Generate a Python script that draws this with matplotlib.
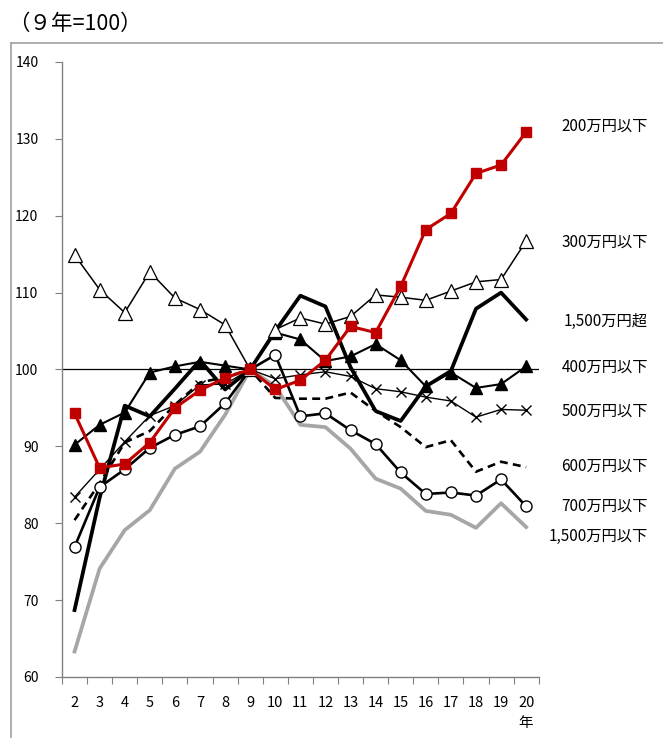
import numpy as np
import matplotlib
matplotlib.use("Agg")
import matplotlib.pyplot as plt
from matplotlib.lines import Line2D
from matplotlib.ticker import FixedLocator, NullFormatter

plt.rcParams['font.family'] = ['Noto Sans CJK JP', 'DejaVu Sans']

# %% data (9年 = 100)
years = list(range(2, 21))

inc_200 = [94.3, 87.2, 87.7, 90.5, 95.0, 97.3, 98.9, 100, 97.4, 98.6, 101.2, 105.6, 104.8, 110.8, 118.2, 120.3, 125.5, 126.6, 130.9]
inc_300 = [114.9, 110.4, 107.4, 112.7, 109.3, 107.8, 105.8, 100, 105.2, 106.7, 105.9, 106.9, 109.7, 109.4, 109.0, 110.2, 111.4, 111.7, 116.7]
inc_400 = [90.2, 92.8, 94.4, 99.6, 100.4, 101.0, 100.5, 100, 104.8, 103.9, 101.1, 101.7, 103.3, 101.2, 97.8, 99.6, 97.6, 98.1, 100.4]
inc_500 = [83.4, 87.0, 90.6, 94.0, 95.3, 98.0, 98.1, 100, 98.8, 99.3, 99.7, 99.1, 97.5, 97.1, 96.4, 95.9, 93.8, 94.8, 94.7]
inc_600 = [80.4, 85.2, 90.5, 92.0, 95.4, 98.3, 99.0, 100, 96.3, 96.2, 96.2, 97.0, 94.6, 92.5, 89.9, 90.8, 86.7, 88.0, 87.3]
inc_700 = [76.9, 84.7, 87.0, 89.8, 91.5, 92.6, 95.6, 100, 101.9, 93.9, 94.3, 92.1, 90.3, 86.6, 83.8, 84.0, 83.6, 85.7, 82.2]
inc_1500 = [63.3, 74.1, 79.1, 81.7, 87.1, 89.3, 94.1, 100, 97.8, 92.8, 92.5, 89.7, 85.8, 84.5, 81.6, 81.1, 79.4, 82.6, 79.5]
inc_1500_over = [68.7, 83.3, 95.3, 93.9, 97.5, 101.2, 97.4, 100, 105.0, 109.6, 108.2, 100.3, 94.6, 93.3, 97.8, 99.8, 107.9, 110.0, 106.5]

labels = ["200万円以下", "300万円以下", "1,500万円超", "400万円以下",
          "500万円以下", "600万円以下", "700万円以下", "1,500万円以下"]
label_y = [131.6, 116.6, 106.3, 100.3, 94.6, 87.4, 82.2, 78.3]

# %% plot
fig = plt.figure(figsize=(6.63, 7.38), dpi=100)
ax = fig.add_axes([0.0935, 0.0827, 0.719, 0.8333])

ax.plot(years, inc_1500, color='#a6a6a6', lw=2.7, zorder=2)
ax.plot(years, inc_1500_over, color='black', lw=2.7, zorder=3)
ax.plot(years, inc_600, color='black', lw=1.9, ls=(0, (3, 2)), zorder=3)
ax.plot(years, inc_500, color='black', lw=1.0, marker='x', ms=7, mew=1.0, zorder=4)
ax.plot(years, inc_700, color='black', lw=1.9, marker='o', ms=8, mfc='white', mec='black', mew=1.0, zorder=4)
ax.plot(years, inc_400, color='black', lw=1.5, marker='^', ms=8.5, mfc='black', mec='black', zorder=5)
ax.plot(years, inc_300, color='black', lw=1.1, marker='^', ms=9.5, mfc='white', mec='black', mew=0.9, zorder=5)
ax.plot(years, inc_200, color='#c00000', lw=2.2, marker='s', ms=7.5, mfc='#c00000', mec='#c00000', zorder=6)

ax.axhline(100, color='black', lw=0.9, zorder=1)

ax.set_xlim(1.5, 20.5)
ax.set_ylim(60, 140)
ax.set_yticks(np.arange(60, 141, 10))

ax.xaxis.set_major_locator(FixedLocator(np.arange(1.5, 20.6, 1)))
ax.xaxis.set_major_formatter(NullFormatter())
ax.xaxis.set_minor_locator(FixedLocator(years))
ax.set_xticklabels([str(y) for y in years], minor=True)
ax.tick_params(axis='x', which='major', length=5, color='#808080', direction='out')
ax.tick_params(axis='x', which='minor', length=0, pad=14, labelsize=10.5)
ax.tick_params(axis='y', length=5, color='#808080', direction='out', pad=12, labelsize=10)

for s in ['top', 'right']:
    ax.spines[s].set_visible(False)
for s in ['left', 'bottom']:
    ax.spines[s].set_color('#808080')
    ax.spines[s].set_linewidth(1.0)

ax.text(20, 54.0, "年", ha='center', va='center', fontsize=10.5)

# series labels on the right
trans = matplotlib.transforms.blended_transform_factory(fig.transFigure, ax.transData)
for lab, yv in zip(labels, label_y):
    fig.text(648 / 663, yv, lab, transform=trans, ha='right', va='center', fontsize=11)

fig.text(8 / 663, 1 - 24 / 738, "（９年=100）", ha='left', va='center', fontsize=15.5)

# outer frame
fig.add_artist(Line2D([11 / 663, 11 / 663], [0, 1 - 43 / 738], transform=fig.transFigure, color='#a0a0a0', lw=1.2))
fig.add_artist(Line2D([11 / 663, 1], [1 - 43 / 738, 1 - 43 / 738], transform=fig.transFigure, color='#a0a0a0', lw=1.2))

fig.savefig("out.png", dpi=100)
